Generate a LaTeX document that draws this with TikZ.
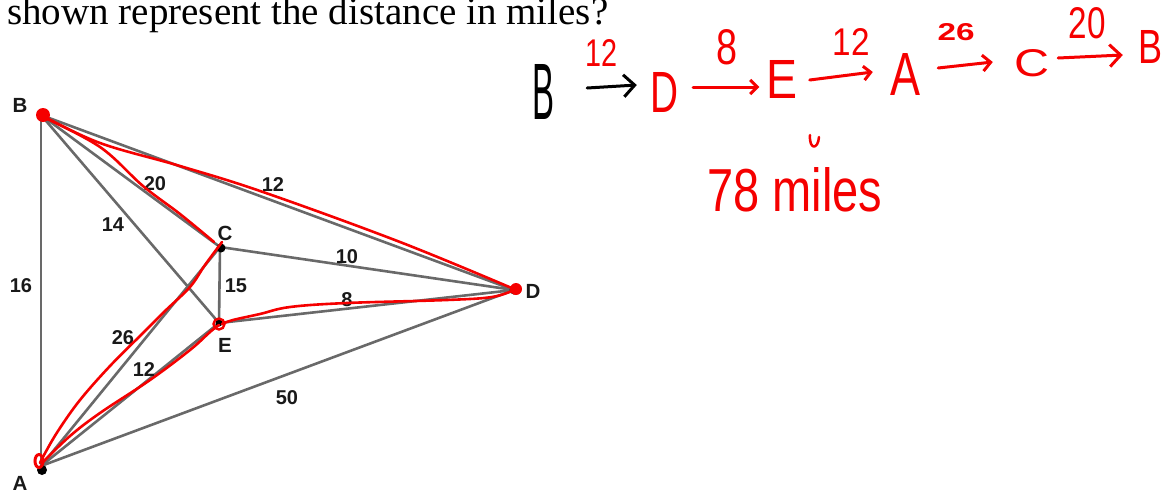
\documentclass[tikz,border=0pt]{standalone}
\usepackage{fontspec}
\setmainfont{Liberation Serif}
\newfontfamily\lsans{Liberation Sans}
\usetikzlibrary{arrows.meta}
\definecolor{edgegray}{RGB}{105,105,105}
\definecolor{penred}{RGB}{245,0,0}
\definecolor{labelblack}{RGB}{25,25,25}
\newcommand\handw[3]{\resizebox{#1pt}{#2pt}{\lsans #3}}
\newcommand\handwb[3]{\resizebox{#1pt}{#2pt}{\lsans\bfseries #3}}
\begin{document}
\begin{tikzpicture}[x=1pt,y=-1pt,
  edge/.style={draw=edgegray, line width=2.6pt},
  vlabel/.style={font=\lsans\bfseries\fontsize{20.5}{20.5}\selectfont, text=labelblack, inner sep=0pt},
  elabel/.style={font=\lsans\bfseries\fontsize{20}{20}\selectfont, text=labelblack, inner sep=0pt},
  redpath/.style={draw=penred, line width=2.6pt, line cap=round, line join=round},
  hw/.style={inner sep=0pt, text=penred},
  pen/.style={draw=penred, line width=3pt, line cap=round, line join=round},
  barb/.style={-{Straight Barb[length=#1, width=2*#1, line width=3pt]}},
]
\useasboundingbox (0,0) rectangle (1168,493);

% question text
\node[anchor=base west, inner sep=0pt, font=\fontsize{39}{39}\selectfont] (q) at (7,24) {shown represent the distance in miles?};

% graph vertices
\coordinate (A) at (41,466);
\coordinate (B) at (41,115);
\coordinate (C) at (220,247);
\coordinate (E) at (219,323);
\coordinate (D) at (514,290);

% gray edges
\draw[edge] (A) -- (B);
\draw[edge] (B) -- (C);
\draw[edge] (B) -- (D);
\draw[edge] (B) -- (E);
\draw[edge] (C) -- (E);
\draw[edge] (C) -- (D);
\draw[edge] (E) -- (D);
\draw[edge] (A) -- (C);
\draw[edge] (A) -- (E);
\draw[edge] (A) -- (D);

% vertex dots
\fill[black] (221,248) coordinate (Cdot) circle (4.5);
\fill[black] (42,470) coordinate (Adot) circle (5);
\fill[black] (D) circle (4.5);
\fill[black] (E) circle (3.5);

% vertex labels
\node[vlabel] (lB) at (20,105) {B};
\node[vlabel] (lA) at (20,483) {A};
\node[vlabel] (lC) at (225,233) {C};
\node[vlabel] (lE) at (225,345) {E};
\node[vlabel] (lD) at (533,291) {D};

% edge labels
\node[elabel] (w16) at (21,286) {16};
\node[elabel] (w20) at (155,184) {20};
\node[elabel] (w12a) at (273,185) {12};
\node[elabel] (w14) at (113,225) {14};
\node[elabel] (w15) at (236,286) {15};
\node[elabel] (w26) at (123,338) {26};
\node[elabel] (w12b) at (144,370) {12};
\node[elabel] (w50) at (287,398) {50};
\node[elabel] (w10) at (347,257) {10};
\node[elabel] (w8) at (347,300) {8};

% red highlighted route
\draw[redpath] plot[smooth, tension=0.6] coordinates {(43,116) (100,143) (180,166) (263,192) (400,242) (514,289)};
\draw[redpath] plot[smooth, tension=0.6] coordinates {(43,117) (100,147) (143,186) (180,214) (214,242)};
\draw[redpath] plot[smooth, tension=0.6] coordinates {(222,242) (205,265) (190,287) (165,311) (143,333) (110,366) (80,400) (58,431) (44,455) (40,463)};
\draw[redpath] plot[smooth, tension=0.6] coordinates {(42,463) (70,436) (100,413) (150,380) (190,350) (210,332) (219,325)};
\draw[redpath] plot[smooth, tension=0.6] coordinates {(222,324) (233,320) (260,314) (290,307) (347,303) (447,300) (492,297) (514,290)};

% red marks on vertices
\fill[penred] (43,115) circle (7);
\draw[penred, line width=2.4pt] (219,324) circle (5.5);
\fill[penred] (516,289) circle (6);
\draw[penred, line width=3pt] (39,461) ellipse (4 and 6.5);

% handwritten route
\node[inner sep=0pt] (hB) at (543,92) {\handw{22}{55}{B}};
\node[hw] (n12a) at (601,53) {\handw{32}{27}{12}};
\node[hw] (hD) at (664,92) {\handw{28}{40}{D}};
\node[hw] (n8) at (727,47) {\handw{21}{35}{8}};
\node[hw] (hE) at (782,79) {\handw{31}{38}{E}};
\node[hw] (n12b) at (851,42) {\handw{37}{27}{12}};
\node[hw] (hA) at (905,74) {\handw{30}{42}{A}};
\node[hw] (n26) at (956,32) {\handwb{37}{17}{26}};
\node[hw] (hC) at (1032,63) {\handw{35}{27}{C}};
\node[hw] (n20) at (1087,23) {\handw{37}{31}{20}};
\node[hw] (hB2) at (1150,47) {\handw{24}{33}{B}};
\node[hw] (total) at (795,190) {\handw{175}{44}{78 miles}};

% handwritten arrows
\draw[pen, draw=black, barb=11pt] ([shift={(33pt,4pt)}]hB.east) -- ([shift={(-13pt,7pt)}]hD.west);
\draw[pen, barb=7pt] ([shift={(15pt,5pt)}]hD.east) -- ([shift={(-7pt,-8pt)}]hE.west);
\draw[pen, barb=7pt] ([shift={(12pt,-1pt)}]hE.east) -- ([shift={(-17pt,2pt)}]hA.west);
\draw[pen, barb=8pt] ([shift={(18pt,6pt)}]hA.east) -- ([shift={(-21.5pt,1pt)}]hC.west);
\draw[pen, barb=11pt] ([shift={(8.5pt,5pt)}]hC.east) -- ([shift={(-15pt,-8pt)}]hB2.west);

% small mark above the total
\draw[pen, line width=2.5pt] (810,135) .. controls (809,150) and (818,150) .. (819,137);
\end{tikzpicture}
\end{document}
